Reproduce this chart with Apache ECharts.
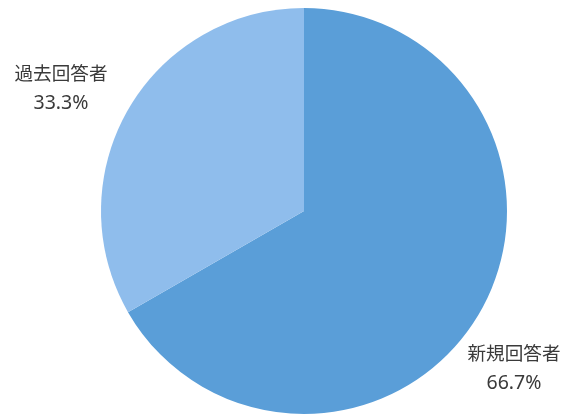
<!DOCTYPE html>
<html>
<head>
<meta charset="utf-8">
<script src="https://cdn.jsdelivr.net/npm/echarts@6/dist/echarts.min.js"></script>
<style>
  html, body { margin: 0; padding: 0; background: #ffffff; }
  #chart { width: 566px; height: 419px; }
</style>
</head>
<body>
<div id="chart"></div>
<script>
// Respondent breakdown
const categories = ['新規回答者', '過去回答者'];
const shares = [66.7, 33.3];
const sliceColors = ['#5a9ed8', '#8fbdec'];

// Label anchor points (block centres) for each slice
const labelSpots = [
  { x: 514, y: 368 },
  { x: 61, y: 88 }
];

const chart = echarts.init(document.getElementById('chart'), null, { renderer: 'canvas' });

chart.setOption({
  backgroundColor: '#ffffff',
  animation: false,
  series: [{
    type: 'pie',
    center: [304, 211],
    radius: [0, 203],
    startAngle: 90,
    clockwise: true,
    percentPrecision: 1,
    avoidLabelOverlap: false,
    data: categories.map((name, i) => ({
      name: name,
      value: shares[i],
      itemStyle: { color: sliceColors[i] }
    })),
    label: {
      show: true,
      position: 'outside',
      formatter: '{n|{b}}\n{p|{d}%}',
      color: '#3a3a3a',
      align: 'center',
      rich: {
        n: {
          fontSize: 18.6,
          lineHeight: 31,
          color: '#3a3a3a',
          fontFamily: '"Noto Sans CJK JP", "Noto Sans", sans-serif'
        },
        p: {
          fontSize: 19.5,
          lineHeight: 31,
          color: '#3a3a3a',
          fontFamily: '"Noto Sans", "Noto Sans CJK JP", sans-serif'
        }
      }
    },
    labelLine: { show: false },
    labelLayout: function (params) {
      const spot = labelSpots[params.dataIndex];
      return {
        x: spot.x,
        y: spot.y,
        align: 'center',
        verticalAlign: 'middle'
      };
    },
    emphasis: { disabled: true }
  }]
});
</script>
</body>
</html>
